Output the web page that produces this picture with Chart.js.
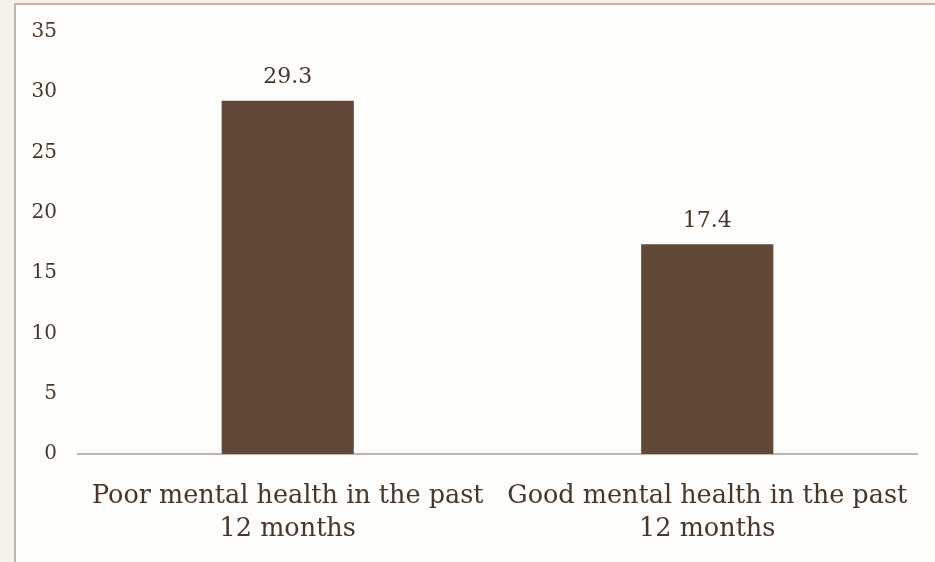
<!DOCTYPE html>
<html>
<head>
<meta charset="utf-8">
<script src="https://cdn.jsdelivr.net/npm/chart.js@4"></script>
<style>
    html, body { margin: 0; padding: 0; background: #f5f2ec; }
    #panel {
        position: absolute;
        left: 14px;
        top: 3px;
        width: 919px;
        height: 557px;
        background: #fdfdfc;
        border-left: 2px solid #c2b5aa;
        border-top: 2px solid #c2b5aa;
    }
</style>
</head>
<body>
<div id="panel"><canvas id="chart" width="919" height="557"></canvas></div>
<script>
const categories = [
    ['Poor mental health in the past', '12 months'],
    ['Good mental health in the past', '12 months']
];
const values = [29.3, 17.4];
const yTicks = [0, 5, 10, 15, 20, 25, 30, 35];

const fontFamily = '"DejaVu Serif", serif';
const textColor = '#4a3627';
const barColor = '#614837';

// draws the value over each bar
const barLabels = {
    id: 'barLabels',
    afterDatasetsDraw(chart) {
        const ctx = chart.ctx;
        const meta = chart.getDatasetMeta(0);
        ctx.save();
        ctx.font = '22px ' + fontFamily;
        ctx.fillStyle = textColor;
        ctx.textAlign = 'center';
        ctx.textBaseline = 'alphabetic';
        meta.data.forEach((bar, i) => {
            ctx.fillText(values[i].toFixed(1), bar.x, bar.y - 17.5);
        });
        ctx.restore();
    }
};

new Chart(document.getElementById('chart').getContext('2d'), {
    type: 'bar',
    data: {
        labels: categories,
        datasets: [{
            data: values,
            backgroundColor: barColor,
            borderWidth: 0,
            barPercentage: 0.63,
            categoryPercentage: 0.5
        }]
    },
    options: {
        responsive: false,
        animation: false,
        layout: { padding: { top: 27, right: 18, left: 0, bottom: 0 } },
        plugins: {
            legend: { display: false },
            tooltip: { enabled: false }
        },
        scales: {
            x: {
                grid: { display: false },
                border: { display: true, color: '#c2b5aa', width: 2 },
                afterFit(scale) { scale.height = 108; },
                ticks: {
                    color: textColor,
                    font: { family: fontFamily, size: 25.5, lineHeight: 1.3 },
                    padding: 18,
                    maxRotation: 0,
                    autoSkip: false
                }
            },
            y: {
                min: 0,
                max: 35,
                grid: { display: false },
                border: { display: false },
                afterFit(scale) { scale.width = 62; },
                afterBuildTicks(scale) { scale.ticks = yTicks.map(v => ({ value: v })); },
                ticks: {
                    color: textColor,
                    font: { family: fontFamily, size: 20 },
                    padding: 13
                }
            }
        }
    },
    plugins: [barLabels]
});
</script>
</body>
</html>
